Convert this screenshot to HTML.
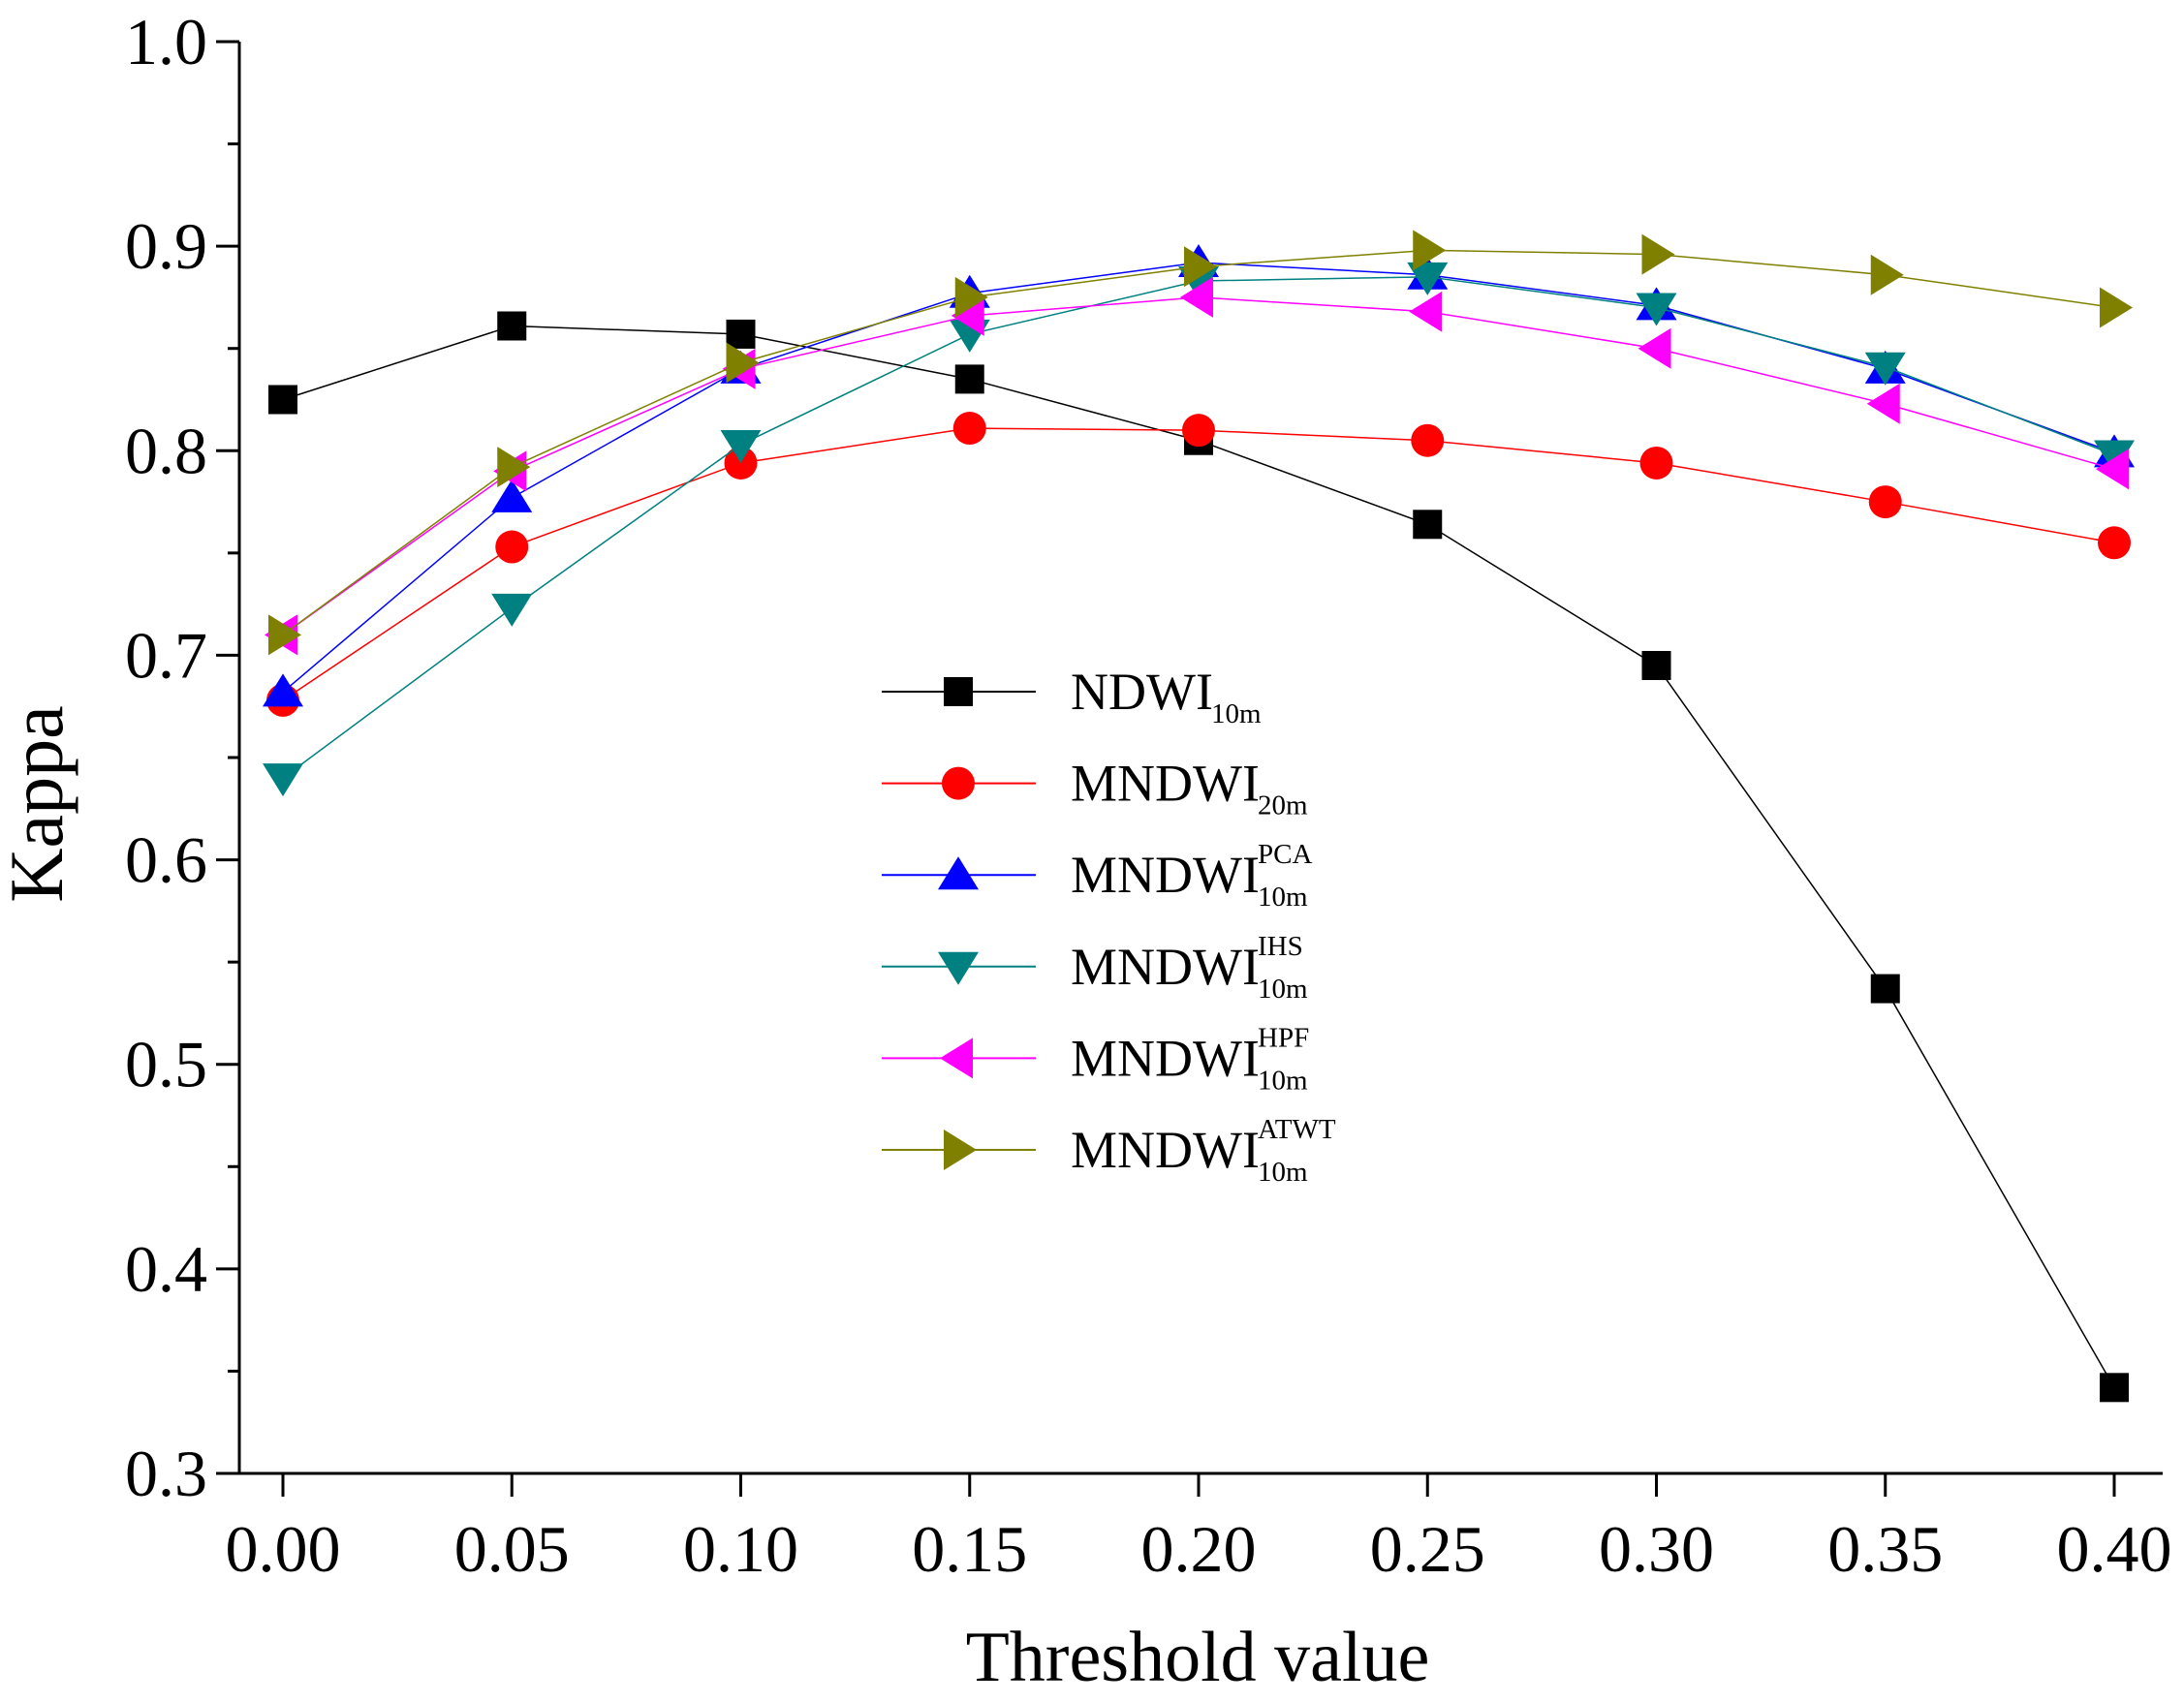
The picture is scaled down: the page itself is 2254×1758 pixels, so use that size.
<!DOCTYPE html>
<html><head><meta charset="utf-8"><style>
html,body{margin:0;padding:0;background:#fff;}
svg{display:block;font-family:"Liberation Serif",serif;}
</style></head><body>
<svg id="chart" width="2254" height="1758" viewBox="0 0 2254 1758" xmlns="http://www.w3.org/2000/svg">
<g id="axes"></g>
<g id="series"></g>
<g id="legend"></g>
<text transform="translate(64,830) rotate(-90)" text-anchor="middle" font-size="78">Kappa</text>
<text x="1236" y="1735" text-anchor="middle" font-size="74">Threshold value</text>
</svg>
<script>
const categories=[0,0.05,0.10,0.15,0.20,0.25,0.30,0.35,0.40];
const xTickLabels=["0.00","0.05","0.10","0.15","0.20","0.25","0.30","0.35","0.40"];
const yTicks=[0.3,0.4,0.5,0.6,0.7,0.8,0.9,1.0];
const yTickLabels=["0.3","0.4","0.5","0.6","0.7","0.8","0.9","1.0"];
const ndwi10=[0.825,0.861,0.857,0.835,0.805,0.764,0.695,0.537,0.342];
const mndwi20=[0.678,0.753,0.794,0.811,0.810,0.805,0.794,0.775,0.755];
const pca=[0.682,0.777,0.840,0.877,0.892,0.886,0.871,0.840,0.799];
const ihs=[0.640,0.723,0.803,0.857,0.883,0.885,0.870,0.841,0.798];
const hpf=[0.710,0.790,0.840,0.866,0.875,0.868,0.850,0.823,0.791];
const atwt=[0.710,0.792,0.843,0.875,0.890,0.898,0.896,0.886,0.870];

const NS="http://www.w3.org/2000/svg";
const X=v=>292+(v/0.40)*(2182-292);
const Y=v=>1521-(v-0.3)/0.7*(1521-43);
function mk(tag,attrs,parent){const e=document.createElementNS(NS,tag);for(const k in attrs)e.setAttribute(k,attrs[k]);parent.appendChild(e);return e;}
const axes=document.getElementById('axes');
let e=mk('line',{x1:247,y1:1521,x2:2232,y2:1521,stroke:'#000','stroke-width':3},axes);


e=mk('line',{x1:247,y1:43,x2:247,y2:1522,stroke:'#000','stroke-width':3},axes);


categories.forEach((c,i)=>{
 const t=mk('line',{x1:X(c),y1:1521,x2:X(c),y2:1545,stroke:'#000','stroke-width':3},axes);
 
 
 const l=mk('text',{x:X(c),y:1622,'text-anchor':'middle','font-size':68},axes);
 l.textContent=xTickLabels[i];
 
 
});
yTicks.forEach((v,i)=>{
 const t=mk('line',{x1:223,y1:Y(v),x2:247,y2:Y(v),stroke:'#000','stroke-width':3},axes);
 
 
 if(i<yTicks.length-1){const m=mk('line',{x1:235,y1:Y(v+0.05),x2:247,y2:Y(v+0.05),stroke:'#000','stroke-width':3},axes);
 
 }
 const l=mk('text',{x:214,y:Y(v)+23,'text-anchor':'end','font-size':68},axes);
 l.textContent=yTickLabels[i];
 
 
});
function marker(type,x,y,color,parent){
 const s=17;
 if(type==='sq')return mk('rect',{x:x-15,y:y-15,width:30,height:30,fill:color},parent);
 if(type==='ci')return mk('circle',{cx:x,cy:y,r:17,fill:color},parent);
 let pts;
 if(type==='up')pts=[[x,y-s-2],[x+s+4,y+s-2],[x-s-4,y+s-2]];
 if(type==='dn')pts=[[x,y+s+2],[x+s+4,y-s+2],[x-s-4,y-s+2]];
 if(type==='lf')pts=[[x-s-2,y],[x+s-2,y-s-4],[x+s-2,y+s+4]];
 if(type==='rt')pts=[[x+s+2,y],[x-s+2,y-s-4],[x-s+2,y+s+4]];
 return mk('polygon',{points:pts.map(p=>p.join(',')).join(' '),fill:color},parent);
}
const seriesDefs=[
 {name:'ndwi-10m',data:ndwi10,color:'#000000',m:'sq',w:1.5},
 {name:'mndwi-20m',data:mndwi20,color:'#ff0000',m:'ci',w:1.5},
 {name:'mndwi-pca',data:pca,color:'#0000ff',m:'up',w:1.5},
 {name:'mndwi-ihs',data:ihs,color:'#008080',m:'dn',w:1.5},
 {name:'mndwi-hpf',data:hpf,color:'#ff00ff',m:'lf',w:1.5},
 {name:'mndwi-atwt',data:atwt,color:'#808000',m:'rt',w:1.5}
];
const sg=document.getElementById('series');
seriesDefs.forEach(s=>{
 const g=mk('g',{},sg);
 
 
 const pl=mk('polyline',{points:s.data.map((v,i)=>X(categories[i])+','+Y(v)).join(' '),fill:'none',stroke:s.color,'stroke-width':s.w},g);
 
 
 s.data.forEach((v,i)=>{
  const p=marker(s.m,X(categories[i]),Y(v),s.color,g);
  
  
 });
});
const lg=document.getElementById('legend');
const legendLabels=[["NDWI","10m",""],["MNDWI","20m",""],["MNDWI","10m","PCA"],["MNDWI","10m","IHS"],["MNDWI","10m","HPF"],["MNDWI","10m","ATWT"]];
seriesDefs.forEach((s,i)=>{
 const y=714+i*94.6;
 const g=mk('g',{},lg);
 
 
 mk('line',{x1:910,y1:y,x2:1069,y2:y,stroke:s.color,'stroke-width':2},g);
 marker(s.m,989,y,s.color,g);
 const t=mk('text',{x:1105,y:y+18,'font-size':54},g);
 t.textContent=legendLabels[i][0];
 const base=mk('text',{x:legendLabels[i][0]==='NDWI'?1250:1298,y:y+32,'font-size':29},g);
 base.textContent=legendLabels[i][1];
 if(legendLabels[i][2]){const sp=mk('text',{x:1298,y:y-12,'font-size':29},g);sp.textContent=legendLabels[i][2];}
});
</script>
</body></html>
